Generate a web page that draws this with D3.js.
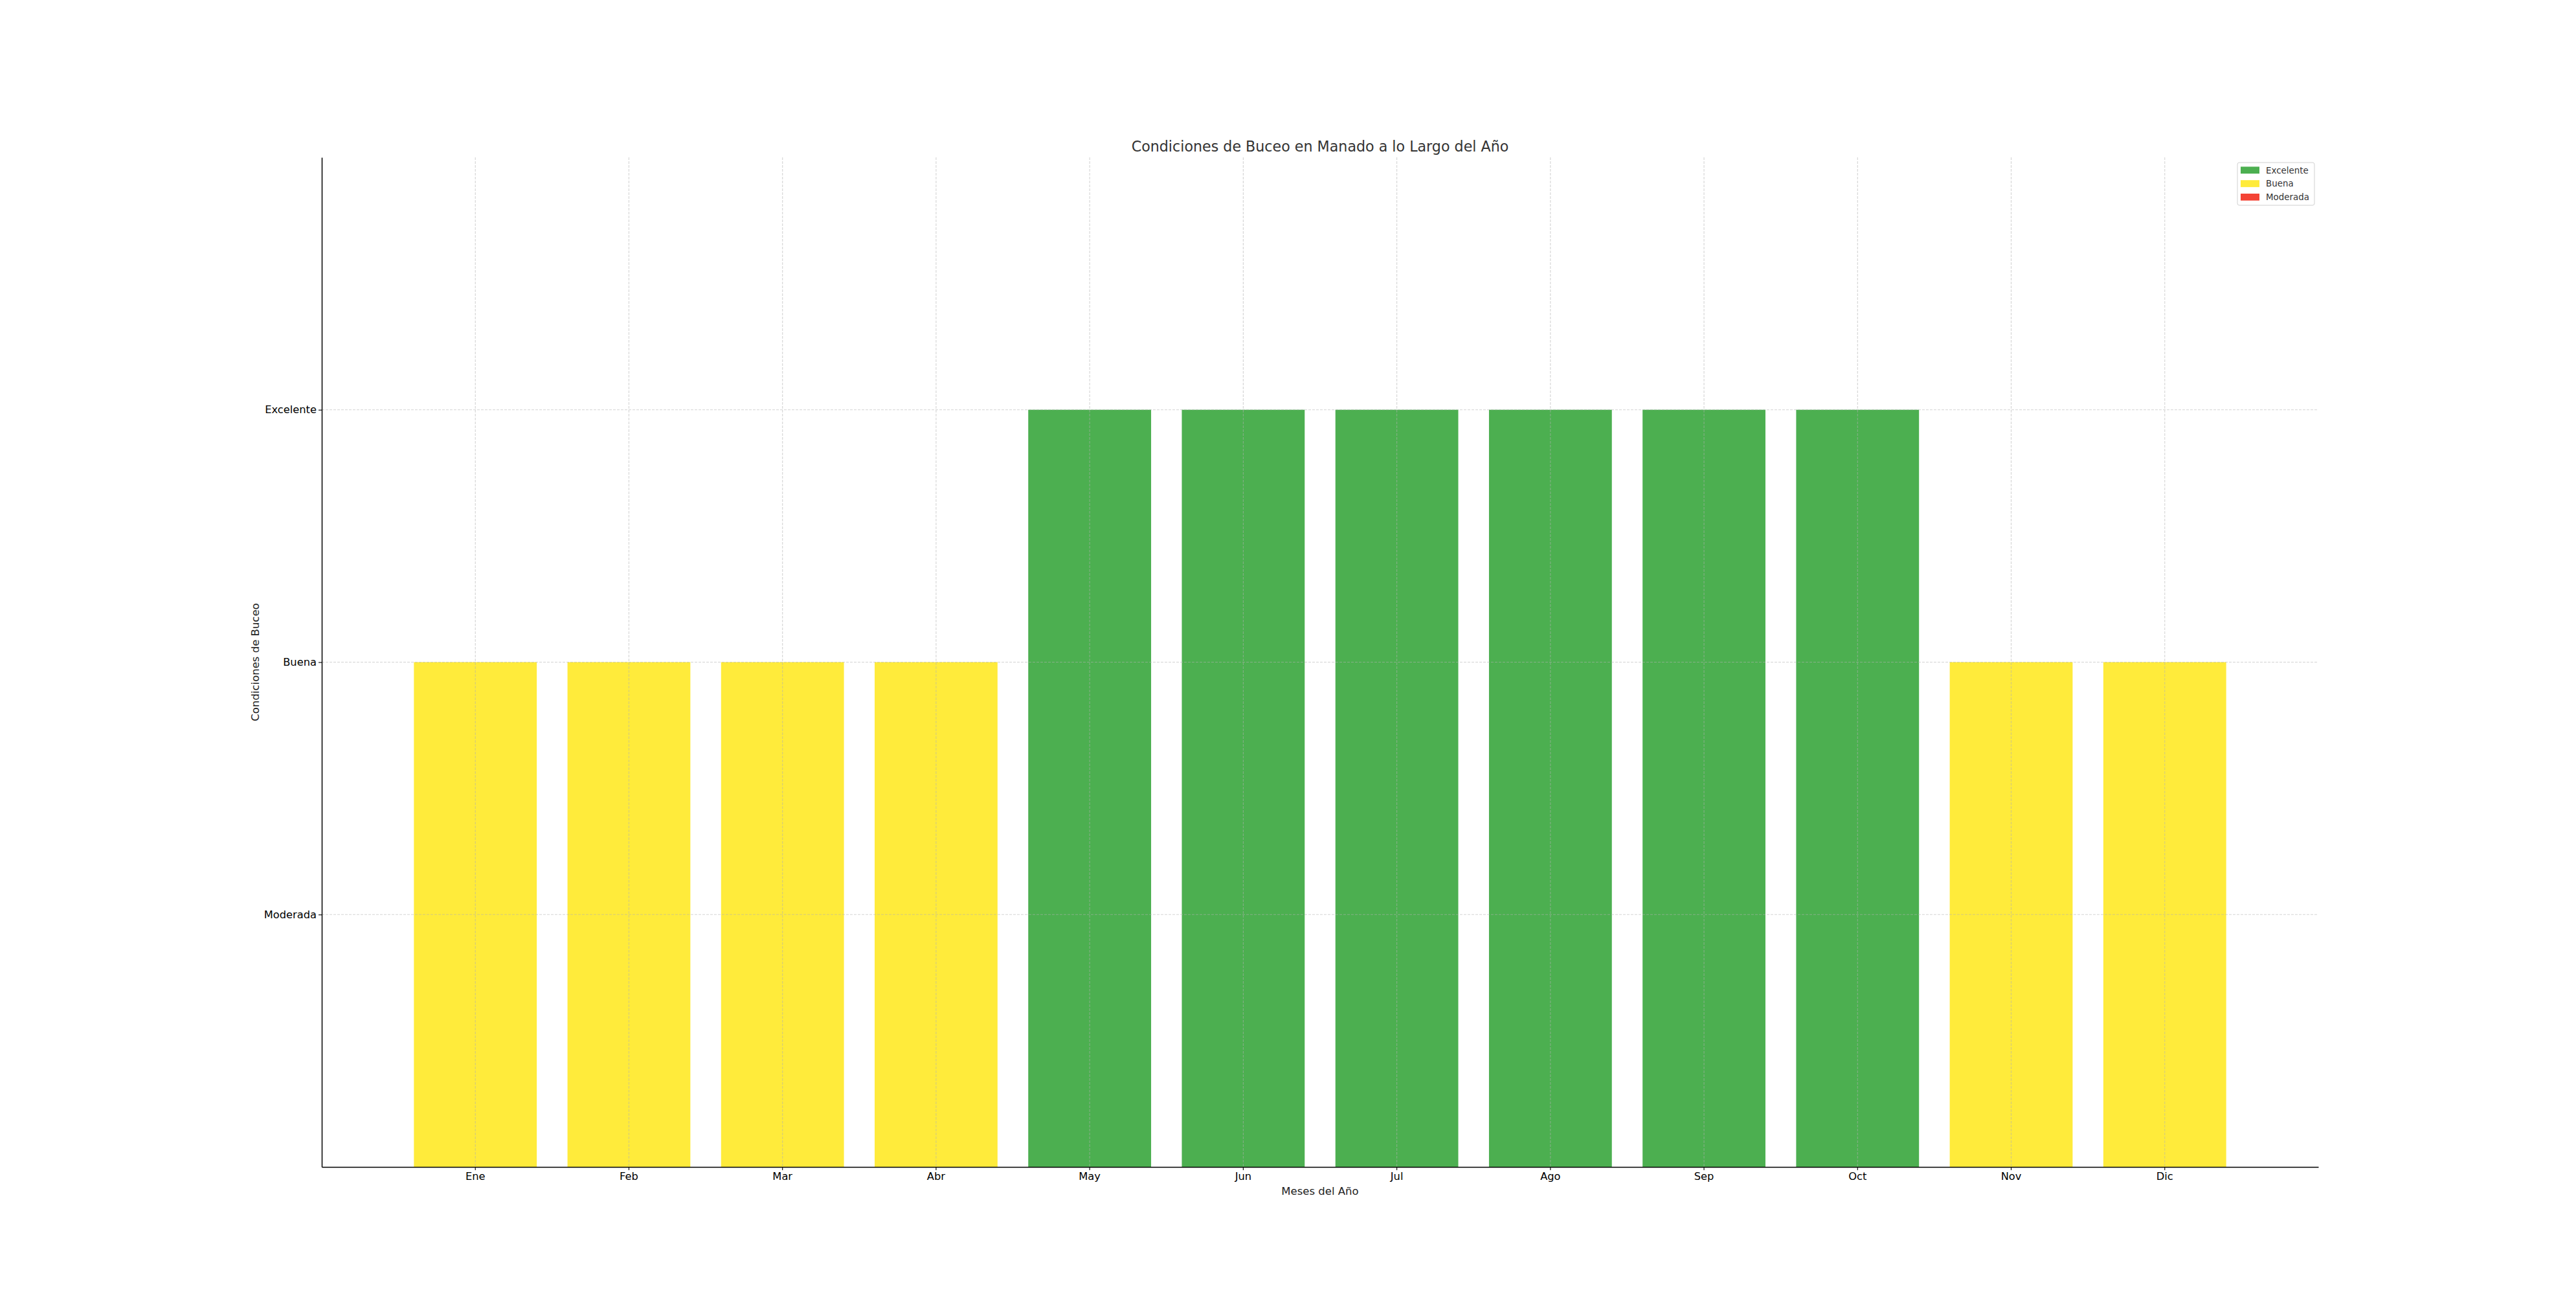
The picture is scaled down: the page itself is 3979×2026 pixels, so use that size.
<!DOCTYPE html>
<html>
<head>
<meta charset="utf-8">
<script src="https://cdn.jsdelivr.net/npm/d3@7"></script>
<style>
  body { margin: 0; background: #fff; }
  text { font-family: "DejaVu Sans", sans-serif; }
</style>
</head>
<body>
<svg width="3979" height="2026"></svg>
<script>
// data
const months = ["Ene", "Feb", "Mar", "Abr", "May", "Jun", "Jul", "Ago", "Sep", "Oct", "Nov", "Dic"];
const conditions = ["Buena", "Buena", "Buena", "Buena", "Excelente", "Excelente",
    "Excelente", "Excelente", "Excelente", "Excelente", "Buena", "Buena"];
const levels = ["Moderada", "Buena", "Excelente"];
const levelValues = [1, 2, 3];
const legendOrder = ["Excelente", "Buena", "Moderada"];
const levelColors = { "Excelente": "#4caf50", "Buena": "#ffeb3b", "Moderada": "#f44336" };

const svg = d3.select("svg");
const margin = { left: 497, top: 243, right: 3979 - 3581, bottom: 2026 - 1802 };
const width = 3979 - margin.left - margin.right;
const height = 2026 - margin.top - margin.bottom;

const g = svg.append("g")
    .attr("transform", `translate(${margin.left},${margin.top})`);

const x = d3.scaleBand()
    .domain(months)
    .range([0, width])
    .paddingInner(0.2)
    .paddingOuter(0.6);

const y = d3.scaleLinear()
    .domain([0, 4])
    .range([height, 0]);

const valueOf = c => levelValues[levels.indexOf(c)];

// bars
g.selectAll(".bar")
    .data(months.map((m, i) => ({ month: m, cond: conditions[i] })))
    .enter()
    .append("rect")
    .attr("class", "bar")
    .attr("x", d => x(d.month))
    .attr("y", d => y(valueOf(d.cond)))
    .attr("width", x.bandwidth())
    .attr("height", d => y(0) - y(valueOf(d.cond)))
    .attr("fill", d => levelColors[d.cond]);

// grid (drawn over the bars like matplotlib)
const grid = g.append("g").attr("class", "grid");
grid.selectAll(".vgrid")
    .data(months)
    .enter()
    .append("line")
    .attr("x1", d => x(d) + x.bandwidth() / 2)
    .attr("x2", d => x(d) + x.bandwidth() / 2)
    .attr("y1", 0)
    .attr("y2", height);
grid.selectAll(".hgrid")
    .data(levelValues)
    .enter()
    .append("line")
    .attr("x1", 0)
    .attr("x2", width)
    .attr("y1", d => y(d))
    .attr("y2", d => y(d));
grid.selectAll("line")
    .attr("stroke", "#b0b0b0")
    .attr("stroke-opacity", 0.55)
    .attr("stroke-width", 1.1)
    .attr("stroke-dasharray", "4,2");

// axes
const xAxis = g.append("g")
    .attr("transform", `translate(0,${height})`)
    .call(d3.axisBottom(x).tickSize(5).tickPadding(3).tickSizeOuter(0));

const yAxis = g.append("g")
    .call(d3.axisLeft(y)
        .tickValues(levelValues)
        .tickFormat(v => levels[levelValues.indexOf(v)])
        .tickSize(5)
        .tickPadding(3)
        .tickSizeOuter(0));

[xAxis, yAxis].forEach(a => {
    a.select(".domain").attr("stroke", "#000").attr("stroke-width", 1.5);
    a.selectAll(".tick line").attr("stroke", "#000").attr("stroke-width", 1.1);
    a.selectAll(".tick text")
        .attr("font-size", "16.3px")
        .attr("fill", "#000")
        .style("font-family", "DejaVu Sans, sans-serif");
});
xAxis.selectAll(".tick text").attr("dy", "0.71em");

// title and labels
svg.append("text")
    .attr("x", margin.left + width / 2)
    .attr("y", 234)
    .attr("text-anchor", "middle")
    .attr("font-size", "22.2px")
    .attr("fill", "#333")
    .text("Condiciones de Buceo en Manado a lo Largo del Año");

svg.append("text")
    .attr("x", margin.left + width / 2)
    .attr("y", 1845)
    .attr("text-anchor", "middle")
    .attr("font-size", "16.5px")
    .attr("fill", "#222")
    .text("Meses del Año");

svg.append("text")
    .attr("transform", `translate(400,${margin.top + height / 2}) rotate(-90)`)
    .attr("text-anchor", "middle")
    .attr("font-size", "16.5px")
    .attr("fill", "#222")
    .text("Condiciones de Buceo");

// legend
const legend = svg.append("g")
    .attr("transform", "translate(3456,251)");

legend.append("rect")
    .attr("width", 119)
    .attr("height", 66)
    .attr("rx", 3)
    .attr("fill", "#fff")
    .attr("fill-opacity", 0.8)
    .attr("stroke", "#d0d0d0")
    .attr("stroke-width", 1);

const item = legend.selectAll(".legend-item")
    .data(legendOrder)
    .enter()
    .append("g")
    .attr("class", "legend-item")
    .attr("transform", (d, i) => `translate(0,${11.7 + i * 20.8})`);

item.append("rect")
    .attr("x", 5)
    .attr("y", -5.3)
    .attr("width", 29)
    .attr("height", 10.7)
    .attr("fill", d => levelColors[d]);

item.append("text")
    .attr("x", 44)
    .attr("y", 0)
    .attr("dy", "0.36em")
    .attr("font-size", "13.4px")
    .attr("fill", "#333")
    .text(d => d);
</script>
</body>
</html>
